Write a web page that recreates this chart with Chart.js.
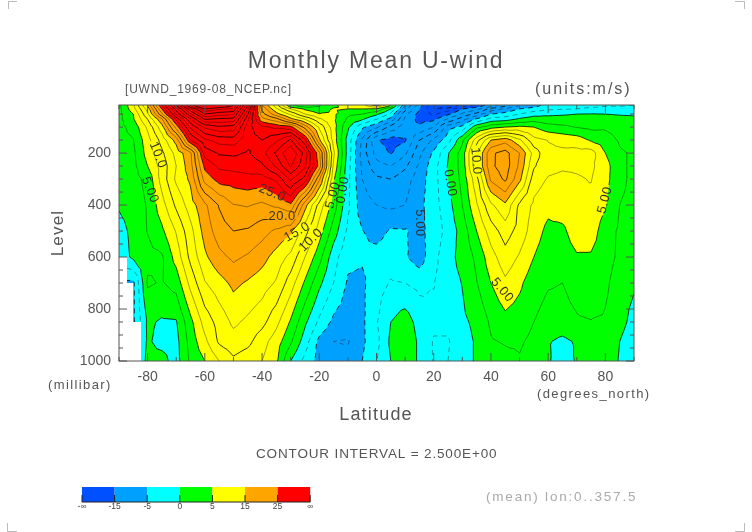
<!DOCTYPE html>
<html>
<head>
<meta charset="utf-8">
<style>
    html, body { margin: 0; padding: 0; background: #fff; }
    #wrap { position: relative; width: 752px; height: 532px; }
</style>
<script src="https://cdn.jsdelivr.net/npm/chart.js@4"></script>
</head>
<body>
<div id="wrap"><canvas id="grafico" width="752" height="532"></canvas></div>
<script>
const lats = [-90,-85,-80,-75,-70,-65,-60,-55,-50,-45,-40,-35,-30,-25,-20,-15,-10,-5,0,5,10,15,20,25,30,35,40,45,50,55,60,65,70,75,80,85,90];
const levels = [1000,925,850,700,600,500,400,300,250,200,150,100,70,50,30,20,10];

// zonal wind (m/s), one array per pressure level, south to north
const u1000 = [-3,-3,0.6,0.8,-1,3,5,7.5,9.5,8.5,7.5,5.4,0,-3.3,-6,-6.8,-6.5,-5,-2.6,0,2,-0.5,-2.7,-2.5,-1,0.3,1.3,1.8,2.3,1.5,0.3,-1.5,0.3,1.5,1.5,-0.2,-1.5];
const u925 = [-3,-3,0.3,-0.7,-0.8,3.5,6.9,10.4,11.5,10.7,8.5,6.2,2.9,-1.3,-5.7,-7.5,-7.7,-5.5,-3.2,0.5,2,-0.5,-2.7,-2.7,-1,0.3,2.3,2.7,2.8,1.9,0.2,-0.6,0.3,1.7,1.5,0,-1.5];
const u850 = [-5.5,-5.5,0.4,-0.3,-0.2,4.3,8.5,11,13,12,10.8,8.2,4.7,0.5,-3,-5.6,-6.3,-5.5,-2.7,0,1.3,-1,-2,-2,-0.5,0.6,2.9,4.2,3.7,2.5,1.6,1.6,2.2,2.4,2.2,0.8,-0.8];
const u700 = [-5.5,-5.5,2.8,2.3,3.5,8.3,12.3,14,15.6,14.7,13.7,12.2,8.7,4.6,0.6,-2.5,-5.3,-5.5,-3.5,-2.3,-2.5,-3.2,-2.6,-1.2,0.1,2.4,5,7,5.5,3.5,2.7,2.5,3.5,4.3,3,1.2,0.3];
const u600 = [-1.5,0.5,1.8,2.2,6,10.7,14.5,16.8,18,17.2,15.9,14,11.8,7.5,3.4,-1.5,-4.4,-4.7,-4,-3.5,-4.7,-6.3,-3.2,-1,1,3,6.5,9,7.2,5,3.5,3.5,4.7,4.7,3.5,2,0.8];
const u500 = [-1,0.7,2.6,4.5,7.7,11.7,16,18.8,20,19.7,18.5,17,15.5,11,6.2,1.3,-3,-4.9,-6,-4.7,-4.8,-5.7,-4,-1.6,1,5,8.7,11.2,9,6.2,4.3,4.4,6.5,6.2,3.7,2.1,1.5];
const u400 = [0.3,1.2,2.7,6.5,10.5,13.8,17,20.2,22.4,22.7,22,23,24.6,16,9,3.8,-2,-6.5,-7.5,-8,-7.5,-5.7,-3.5,-1,2.5,7.2,12,14.5,9.5,7,5.8,6.5,7.2,6.9,5.2,2.5,1.8];
const u300 = [1,1.6,3.2,8.5,13,15.5,23.5,26,26.3,26.7,26.4,28,33,29,18,5.5,-1.8,-7.5,-9.5,-10,-8.5,-6.2,-3.5,0,3.2,9.2,18,20.5,15.7,8.7,7.3,7,7.3,7.6,5.8,3.2,1.8];
const u250 = [1.5,1.8,5,8.5,12.5,16.5,25.7,28,28.3,28.6,29.5,33,37.8,33,24,7,-1.5,-8,-11.5,-12.5,-10.5,-7,-3.5,0.2,3.5,12,19.5,21.3,17,10.3,8.2,7.8,7.8,8,6,3,2];
const u200 = [2,2,6,9.5,13.3,17,28.5,30.3,30.5,29.7,31.5,35.5,40,34,23,8,-1,-8.5,-13.5,-15.2,-13,-8,-4.5,-0.2,3.7,12,19.5,21,17.5,11.5,8,8,8.3,8.6,5,2.8,2.2];
const u150 = [1.8,2.4,6.5,11,16,27.5,32,33.5,33.8,30.8,30,32,35.4,28,15.5,6.5,-1,-8,-14.8,-16,-15.3,-10,-7,-3.5,2,9,15,16.5,13,8.3,7.4,6.8,6.3,4.7,3.7,2.2,1.5];
const u100 = [1.8,3.3,8,14,23.5,33,38,39.5,39,31,28,27,26,19,12,6,0.5,-4.5,-7,-11,-14,-14.6,-12.5,-6,-4.3,1.8,4,5,5.5,5,3.5,3,2.4,1.9,2.1,1.5,1];
const u70 = [1.8,4.7,10,17,28,37,45,44.5,44,33,23.5,21,16,12.5,8,5.5,2,0.3,-2.5,-6,-13,-15.8,-15.5,-12,-8.5,-4.5,-1.5,-1,0.5,1.5,1,1.1,1.2,1.2,1,0.8,0.5];
const u50 = [1.8,5,12,22,33,42,50,48.5,48,35,21,16,12,7.5,5.2,5.5,3,2.5,0.5,-3,-12,-16,-18,-15.5,-12,-9,-5,-4,-2.5,-1,-0.5,-0.3,0,0.1,0,-0.2,-0.3];
const u30 = [1.8,6.5,13.5,25,36,47,55,53,52,38,19.5,13,7.5,4.5,3,5.3,5,5,4.8,0,-9,-14.8,-20,-19,-15,-13.5,-9,-7,-5,-4,-3,-2.7,-2.5,-2,-1.8,-1.8,-1.5];
const u20 = [1.8,7,15,27,39,52,60,57,54.5,40,18,11.5,3.5,1.5,2.5,4.5,6,6,9,4,-8,-14,-20,-22,-18,-16,-13,-10,-7,-5.5,-4,-3.7,-3,-3,-2.5,-2.5,-2.2];
const u10 = [1.8,7,15,27,41,54,62,60,56,42,17,11,2,1.5,2,4,7,7,14,6,-7,-13,-20,-23,-20,-18,-15,-12,-8,-6,-4.5,-4,-3.5,-3.5,-3,-3,-3];
const grid = [u1000,u925,u850,u700,u600,u500,u400,u300,u250,u200,u150,u100,u70,u50,u30,u20,u10];

const xTicks = [-80,-60,-40,-20,0,20,40,60,80];
const yTicks = [200,400,600,800,1000];

// fill bands: everything at or above bandFrom[i] gets bandColors[i]
const bandFrom = [-15,-5,0,5,15,25];
const bandColors = ["#00a0ff","#00ffff","#00ff00","#ffff00","#ffa500","#ff0000"];
const belowColor = "#0050ff";
const contourLevels = [-22.5,-20,-17.5,-15,-12.5,-10,-7.5,-5,-2.5,0,2.5,5,7.5,10,12.5,15,17.5,20,22.5,25,27.5,30,32.5,35,37.5,40,42.5,45,47.5,50,52.5,55];

// below-ground part near the pole: level it starts at, latitude it reaches
const missingFrom = [600,700,850];
const missingLat = [-87.2,-85,-82.3];

const contourText = ["10.0","5.00","25.0","20.0","15.0","10.0","5.00","0.00","5.00","0.00","10.0","5.00","5.00"];
const contourLat = [-76.4,-79.2,-36.5,-33,-27.8,-22.9,-15.2,-11.7,15.2,25.7,34.8,79.9,43.9];
const contourLev = [208,342,354,442,504,535,362,342,469,315,231,381,727];
const contourAngle = [68,68,22,0,-30,-45,-75,-80,90,80,85,-75,50];

const barLabels = ["-∞","-15","-5","0","5","15","25","∞"];

function clipAbove(tri, level) {
    const out = [];
    for (let i = 0; i < tri.length; i++) {
        const a = tri[i], b = tri[(i + 1) % tri.length];
        if (a.v >= level) out.push(a);
        if ((a.v >= level) !== (b.v >= level)) {
            const t = (level - a.v) / (b.v - a.v);
            out.push({ x: a.x + (b.x - a.x) * t, y: a.y + (b.y - a.y) * t, v: level });
        }
    }
    return out;
}

// each grid cell is cut in four around its mean, so no diagonal is favoured
function buildTriangles(xs, ys) {
    const tris = [];
    for (let j = 0; j < levels.length - 1; j++) {
        for (let i = 0; i < lats.length - 1; i++) {
            const p = (ii, jj) => ({ x: xs.getPixelForValue(lats[ii]), y: ys.getPixelForValue(levels[jj]), v: grid[jj][ii] });
            const a = p(i, j), b = p(i + 1, j), c = p(i + 1, j + 1), d = p(i, j + 1);
            const m = { x: (a.x + b.x) / 2, y: (a.y + d.y) / 2, v: (a.v + b.v + c.v + d.v) / 4 };
            tris.push([a, b, m], [b, c, m], [c, d, m], [d, a, m]);
        }
    }
    return tris;
}

function contourChains(tris, level) {
    const segs = [];
    tris.forEach(tri => {
        const pts = [];
        for (let i = 0; i < 3; i++) {
            const a = tri[i], b = tri[(i + 1) % 3];
            if ((a.v >= level) !== (b.v >= level)) {
                const t = (level - a.v) / (b.v - a.v);
                pts.push({ x: a.x + (b.x - a.x) * t, y: a.y + (b.y - a.y) * t });
            }
        }
        if (pts.length === 2) segs.push(pts);
    });
    const key = p => p.x.toFixed(1) + "," + p.y.toFixed(1);
    const byEnd = {};
    segs.forEach((s, i) => s.forEach(p => (byEnd[key(p)] = byEnd[key(p)] || []).push(i)));
    const used = segs.map(() => false);
    const chains = [];
    const walk = chain => {
        while (true) {
            const last = chain[chain.length - 1];
            const next = (byEnd[key(last)] || []).find(k => !used[k]);
            if (next === undefined) return;
            used[next] = true;
            const s = segs[next];
            chain.push(key(s[0]) === key(last) ? s[1] : s[0]);
        }
    };
    segs.forEach((s, i) => {
        if (used[i]) return;
        used[i] = true;
        const chain = [s[0], s[1]];
        walk(chain);
        chain.reverse();
        walk(chain);
        chains.push(chain);
    });
    return chains;
}

function texto(ctx, str, x, y, font, color, align, spacing) {
    ctx.font = font;
    ctx.fillStyle = color;
    ctx.textAlign = align || "left";
    ctx.textBaseline = "middle";
    ctx.letterSpacing = (spacing || 0) + "px";
    ctx.fillText(str, x, y);
    ctx.letterSpacing = "0px";
}

const contourPlugin = {
    id: "contourPlugin",
    beforeDatasetsDraw(chart) {
        const { ctx, chartArea: area, scales } = chart;
        const xs = scales.x, ys = scales.y;
        const tris = buildTriangles(xs, ys);

        ctx.save();
        ctx.beginPath();
        ctx.rect(area.left, area.top, area.right - area.left, area.bottom - area.top);
        ctx.clip();

        ctx.fillStyle = belowColor;
        ctx.fillRect(area.left, area.top, area.right - area.left, area.bottom - area.top);
        bandFrom.forEach((from, b) => {
            ctx.beginPath();
            tris.forEach(tri => {
                const poly = clipAbove(tri, from);
                if (poly.length < 3) return;
                ctx.moveTo(poly[0].x, poly[0].y);
                poly.slice(1).forEach(p => ctx.lineTo(p.x, p.y));
                ctx.closePath();
            });
            ctx.fillStyle = bandColors[b];
            ctx.fill();
        });

        // contour lines, with gaps where the labels sit
        ctx.save();
        ctx.font = "13px 'Liberation Sans'";
        ctx.beginPath();
        ctx.rect(area.left, area.top, area.right - area.left, area.bottom - area.top);
        contourText.forEach((t, i) => {
            const cx = xs.getPixelForValue(contourLat[i]), cy = ys.getPixelForValue(contourLev[i]);
            const a = contourAngle[i] * Math.PI / 180;
            const hw = ctx.measureText(t).width / 2 + 3, hh = 3;
            const c = Math.cos(a), s = Math.sin(a);
            ctx.moveTo(cx - hw * c + hh * s, cy - hw * s - hh * c);
            ctx.lineTo(cx + hw * c + hh * s, cy + hw * s - hh * c);
            ctx.lineTo(cx + hw * c - hh * s, cy + hw * s + hh * c);
            ctx.lineTo(cx - hw * c - hh * s, cy - hw * s + hh * c);
            ctx.closePath();
        });
        ctx.clip("evenodd");
        contourLevels.forEach(level => {
            const major = level % 5 === 0;
            ctx.strokeStyle = major ? "rgba(0,0,0,0.85)" : "rgba(0,0,0,0.55)";
            ctx.lineWidth = major ? 0.9 : 0.7;
            ctx.setLineDash(level < 0 ? [5, 4] : []);
            contourChains(tris, level).forEach(chain => {
                ctx.beginPath();
                ctx.moveTo(chain[0].x, chain[0].y);
                chain.slice(1).forEach(p => ctx.lineTo(p.x, p.y));
                ctx.stroke();
            });
        });
        ctx.setLineDash([]);
        ctx.restore();

        // missing data
        ctx.fillStyle = "#fff";
        missingFrom.forEach((lev, i) => {
            const top = ys.getPixelForValue(lev), edge = xs.getPixelForValue(missingLat[i]);
            ctx.fillRect(area.left, top, edge - area.left, area.bottom - top);
        });

        contourText.forEach((t, i) => {
            ctx.save();
            ctx.translate(xs.getPixelForValue(contourLat[i]), ys.getPixelForValue(contourLev[i]));
            ctx.rotate(contourAngle[i] * Math.PI / 180);
            texto(ctx, t, 0, 0, "13px 'Liberation Sans'", "#333", "center", 0.5);
            ctx.restore();
        });
        ctx.restore();
    },
    afterDatasetsDraw(chart) {
        const { ctx, chartArea: area, scales } = chart;
        const xs = scales.x, ys = scales.y;

        ctx.strokeStyle = "#555";
        ctx.lineWidth = 1;
        ctx.strokeRect(area.left, area.top, area.right - area.left, area.bottom - area.top);

        // inward ticks on all four sides
        ctx.beginPath();
        for (let lat = -90; lat <= 90; lat += 10) {
            const x = xs.getPixelForValue(lat), len = lat % 20 === 0 ? 8 : 4;
            ctx.moveTo(x, area.bottom); ctx.lineTo(x, area.bottom - len);
            ctx.moveTo(x, area.top); ctx.lineTo(x, area.top + len);
        }
        for (let lev = 50; lev <= 1000; lev += 50) {
            const y = ys.getPixelForValue(lev), len = lev % 200 === 0 ? 8 : 4;
            ctx.moveTo(area.left, y); ctx.lineTo(area.left + len, y);
            ctx.moveTo(area.right, y); ctx.lineTo(area.right - len, y);
        }
        ctx.stroke();

        const sans = "'Liberation Sans'";
        const ink = "#555";
        texto(ctx, "Monthly Mean U-wind", 376, 62, "23px " + sans, ink, "center", 1.8);
        texto(ctx, "[UWND_1969-08_NCEP.nc]", 125, 90, "12px " + sans, ink, "left", 0.8);
        texto(ctx, "(units:m/s)", 535, 90, "16px " + sans, ink, "left", 2);
        texto(ctx, "Latitude", 376, 415, "18px " + sans, ink, "center", 1.2);
        texto(ctx, "(millibar)", 48, 385, "13px " + sans, ink, "left", 1.4);
        texto(ctx, "(degrees_north)", 537, 394, "13px " + sans, ink, "left", 1.4);
        texto(ctx, "CONTOUR INTERVAL = 2.500E+00", 256, 454, "13.5px " + sans, ink, "left", 0.85);
        texto(ctx, "(mean) lon:0..357.5", 486, 497, "13.5px " + sans, "#aaa", "left", 1.8);

        ctx.save();
        ctx.translate(58, 233);
        ctx.rotate(-Math.PI / 2);
        texto(ctx, "Level", 0, 0, "17px " + sans, ink, "center", 1.2);
        ctx.restore();

        // colour key
        const barColors = [belowColor].concat(bandColors);
        const barLeft = 82, barStep = 32.6, barTop = 487, barH = 15;
        barColors.forEach((c, i) => {
            ctx.fillStyle = c;
            ctx.fillRect(barLeft + i * barStep, barTop, barStep, barH);
        });
        ctx.strokeStyle = "#222";
        ctx.beginPath();
        ctx.moveTo(barLeft, barTop + barH); ctx.lineTo(barLeft + 7 * barStep, barTop + barH);
        barLabels.forEach((t, i) => {
            const x = barLeft + i * barStep;
            ctx.moveTo(x, barTop + barH); ctx.lineTo(x, barTop + barH - 7);
            texto(ctx, t, x, 507, "8.5px " + sans, "#444", "center");
        });
        ctx.stroke();

        // page crop marks
        ctx.strokeStyle = "#bbb";
        ctx.beginPath();
        ctx.moveTo(735, 531.5); ctx.lineTo(744.5, 531.5); ctx.lineTo(744.5, 523);
        ctx.moveTo(17, 531.5); ctx.lineTo(7.5, 531.5); ctx.lineTo(7.5, 523);
        ctx.moveTo(735, 1.5); ctx.lineTo(744.5, 1.5); ctx.lineTo(744.5, 9);
        ctx.moveTo(17, 1.5); ctx.lineTo(8.5, 1.5); ctx.lineTo(8.5, 9);
        ctx.stroke();
    }
};

const nodes = [];
levels.forEach((lev, j) => lats.forEach((lat, i) => nodes.push({ x: lat, y: lev, u: grid[j][i] })));

new Chart(document.getElementById("grafico").getContext("2d"), {
    type: "scatter",
    data: { datasets: [{ label: "U-wind", data: nodes, pointRadius: 0, pointHoverRadius: 0, showLine: false }] },
    options: {
        responsive: false,
        animation: false,
        events: [],
        layout: { padding: { top: 105, right: 118, bottom: 0, left: 0 } },
        plugins: { legend: { display: false }, tooltip: { enabled: false }, title: { display: false } },
        scales: {
            x: {
                type: "linear", min: -90, max: 90,
                afterBuildTicks: s => { s.ticks = xTicks.map(v => ({ value: v })); },
                afterFit: s => { s.height = 171; },
                grid: { display: false },
                border: { display: false },
                ticks: { color: "#555", font: { family: "Liberation Sans", size: 14 }, padding: 0, maxRotation: 0, autoSkip: false, callback: v => String(v) }
            },
            y: {
                type: "linear", min: 15, max: 1000, reverse: true,
                afterBuildTicks: s => { s.ticks = yTicks.map(v => ({ value: v })); },
                afterFit: s => { s.width = 119; },
                grid: { display: false },
                border: { display: false },
                ticks: { color: "#555", font: { family: "Liberation Sans", size: 14 }, padding: 0, autoSkip: false, callback: v => String(v) }
            }
        }
    },
    plugins: [contourPlugin]
});
</script>
</body>
</html>
